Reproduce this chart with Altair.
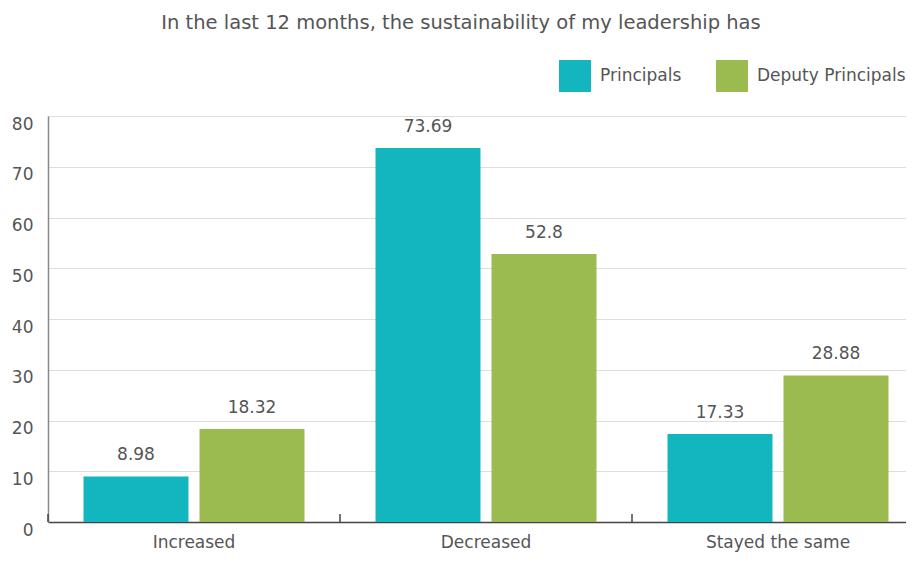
import altair as alt
import pandas as pd

categories = ["Increased", "Decreased", "Stayed the same"]
groups = ["Principals", "Deputy Principals"]
principals = [8.98, 73.69, 17.33]
deputy = [18.32, 52.8, 28.88]
colors = ["#13b5bf", "#9bbb50"]
y_ticks = [0, 10, 20, 30, 40, 50, 60, 70, 80]
title_text = "In the last 12 months, the sustainability of my leadership has"

rows = []
for c, p, d in zip(categories, principals, deputy):
    rows.append({"cat": c, "grp": groups[0], "val": p})
    rows.append({"cat": c, "grp": groups[1], "val": d})
df = pd.DataFrame(rows)
cat_df = pd.DataFrame({"cat": categories})

FONT = "DejaVu Sans"
TXT = "#555555"

x_enc = alt.X(
    "cat:N",
    sort=categories,
    scale=alt.Scale(paddingInner=0, paddingOuter=0, range=[0, 876]),
    axis=alt.Axis(
        title=None, labelAngle=0, ticks=False, labelPadding=12,
        labelFontSize=17, labelColor=TXT, labelFont=FONT,
        domainColor="#444444", domainWidth=1.5, grid=False,
    ),
)
xo_enc = alt.XOffset(
    "grp:N", sort=groups,
    scale=alt.Scale(paddingInner=0.095, paddingOuter=0.306),
)
y_enc = alt.Y(
    "val:Q",
    scale=alt.Scale(domain=[0, 80], nice=False),
    axis=alt.Axis(
        title=None, values=y_ticks, ticks=False, labelPadding=15,
        labelOffset=8,
        labelFontSize=17, labelColor=TXT, labelFont=FONT,
        domainColor="#888888", domainWidth=1.5,
        gridColor="#dddddd", gridWidth=1, minExtent=40, maxExtent=40,
    ),
)
color_enc = alt.Color(
    "grp:N", sort=groups,
    scale=alt.Scale(domain=groups, range=colors),
    legend=alt.Legend(
        title=None, orient="none", legendX=511, legendY=-56,
        direction="horizontal", symbolType="square", symbolSize=1024,
        symbolStrokeWidth=0, symbolOpacity=1, labelFontSize=17, labelColor=TXT,
        labelFont=FONT, labelOffset=9, columnPadding=34, padding=0,
    ),
)

bars = alt.Chart(df).mark_bar().encode(
    x=x_enc, xOffset=xo_enc, y=y_enc, color=color_enc
)
labels = alt.Chart(df).mark_text(
    dy=-16, baseline="alphabetic", fontSize=17, color=TXT, font=FONT
).encode(
    x=alt.X("cat:N", sort=categories), xOffset=alt.XOffset("grp:N", sort=groups),
    y="val:Q", text="val:Q"
)
ticks = alt.Chart(cat_df).mark_rule(color="#444444", strokeWidth=1.5).encode(
    x=alt.X("cat:N", sort=categories, bandPosition=0),
    y=alt.datum(0), y2=alt.datum(1.6),
)

chart = alt.layer(bars, labels, ticks).properties(
    width=858, height=406,
    autosize=alt.AutoSizeParams(type="none"),
    padding={"left": 40, "top": 108, "right": 0, "bottom": 31},
    title=alt.TitleParams(
        title_text, fontSize=19.5, color=TXT, font=FONT, fontWeight="normal",
        anchor="middle", dx=-16, offset=27,
    ),
).configure_view(stroke=None)

chart.save("out.html", embed_options={"renderer": "svg", "actions": False})
